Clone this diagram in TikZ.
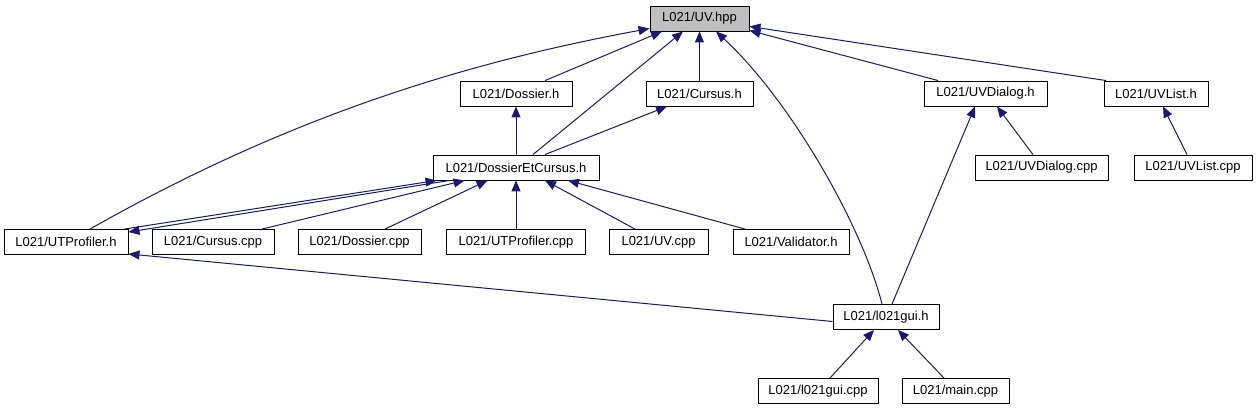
\documentclass[tikz,border=0pt]{standalone}
\usepackage{fontspec}
\setmainfont{Liberation Sans}
\usetikzlibrary{arrows.meta}
\definecolor{edgecol}{RGB}{25,25,112}
\definecolor{rootfill}{RGB}{191,191,191}
\tikzset{
  filebox/.style={draw=black, line width=0.9pt, fill=white, minimum height=25pt, inner sep=0pt,
    font=\fontsize{13}{15}\selectfont},
  rootbox/.style={filebox, fill=rootfill},
  edge/.style={draw=edgecol, line width=1pt, -{Triangle[length=11pt,width=9pt]}},
}
\begin{document}
\begin{tikzpicture}[x=1pt,y=-1pt]
\useasboundingbox (0,0) rectangle (1257,411);
% row 1
\node[rootbox, minimum width=99pt] (uvhpp) at (699.5,18.5) {L021/UV.hpp};
% row 2
\node[filebox, minimum width=112pt] (dossierh) at (516,93.5) {L021/Dossier.h};
\node[filebox, minimum width=107pt] (cursush) at (699.5,93.5) {L021/Cursus.h};
\node[filebox, minimum width=123pt] (uvdialogh) at (985.5,93.5) {L021/UVDialog.h};
\node[filebox, minimum width=104pt] (uvlisth) at (1156,93.5) {L021/UVList.h};
% row 3
\node[filebox, minimum width=166pt] (dec) at (516,167.5) {L021/DossierEtCursus.h};
\node[filebox, minimum width=133pt] (uvdialogcpp) at (1041.5,167.5) {L021/UVDialog.cpp};
\node[filebox, minimum width=118pt] (uvlistcpp) at (1193,167.5) {L021/UVList.cpp};
% row 4
\node[filebox, minimum width=124pt] (utprofh) at (66,242) {L021/UTProfiler.h};
\node[filebox, minimum width=122pt] (cursuscpp) at (213,242) {L021/Cursus.cpp};
\node[filebox, minimum width=123pt] (dossiercpp) at (359.5,242) {L021/Dossier.cpp};
\node[filebox, minimum width=139pt] (utprofcpp) at (516,242) {L021/UTProfiler.cpp};
\node[filebox, minimum width=99pt] (uvcpp) at (658.5,242) {L021/UV.cpp};
\node[filebox, minimum width=116pt] (validatorh) at (791,242) {L021/Validator.h};
% row 5
\node[filebox, minimum width=106pt] (guih) at (886,317) {L021/l021gui.h};
% row 6
\node[filebox, minimum width=120pt] (guicpp) at (818,391) {L021/l021gui.cpp};
\node[filebox, minimum width=107pt] (maincpp) at (955.5,391) {L021/main.cpp};

% edges to UV.hpp
\draw[edge] ([xshift=29pt]dossierh.north) -- ([xshift=-37.5pt]uvhpp.south);
\draw[edge] (cursush.north) -- (uvhpp.south);
\draw[edge] ([xshift=17pt]dec.north) -- ([xshift=-16.5pt]uvhpp.south);
\draw[edge] ([xshift=24pt]utprofh.north) .. controls (300,110) and (480,60) .. ([yshift=-10pt]uvhpp.west);
\draw[edge] ([xshift=-4pt]guih.north) .. controls (862,225) and (790,100) .. ([xshift=16.5pt]uvhpp.south);
\draw[edge] ([xshift=-47.5pt]uvdialogh.north) -- ([yshift=1pt]uvhpp.south east);
\draw[edge] ([xshift=-50pt]uvlisth.north) -- ([yshift=5pt]uvhpp.south east);
% row 2 targets
\draw[edge] ([xshift=29pt]dec.north) -- ([xshift=-32.5pt]cursush.south);
\draw[edge] (dec.north) -- (dossierh.south);
\draw[edge] ([xshift=-8.5pt]uvdialogcpp.north) -- ([xshift=11.5pt]uvdialogh.south);
\draw[edge] ([xshift=-6pt]uvlistcpp.north) -- ([xshift=7pt]uvlisth.south);
\draw[edge] ([xshift=6pt]guih.north) -- ([xshift=-10.5pt]uvdialogh.south);
% DossierEtCursus.h targets
\draw[edge] ([xshift=-4pt]utprofh.north east) -- ([xshift=4pt]dec.south west);
\draw[edge] ([xshift=17pt]dec.south west) -- ([yshift=-3pt]utprofh.north east);
\draw[edge] ([xshift=49pt]cursuscpp.north) -- ([xshift=32pt]dec.south west);
\draw[edge] ([xshift=25.5pt]dossiercpp.north) -- ([xshift=55pt]dec.south west);
\draw[edge] (utprofcpp.north) -- (dec.south);
\draw[edge] ([xshift=-23.5pt]uvcpp.north) -- ([xshift=29pt]dec.south);
\draw[edge] ([xshift=-46pt]validatorh.north) -- ([xshift=52pt]dec.south);
% l021gui.h
\draw[edge] ([yshift=-4.5pt]guih.west) -- ([yshift=1pt]utprofh.south east);
\draw[edge] ([xshift=12pt]guicpp.north) -- ([xshift=-12pt]guih.south);
\draw[edge] ([xshift=-11.5pt]maincpp.north) -- ([xshift=12pt]guih.south);
\end{tikzpicture}
\end{document}
